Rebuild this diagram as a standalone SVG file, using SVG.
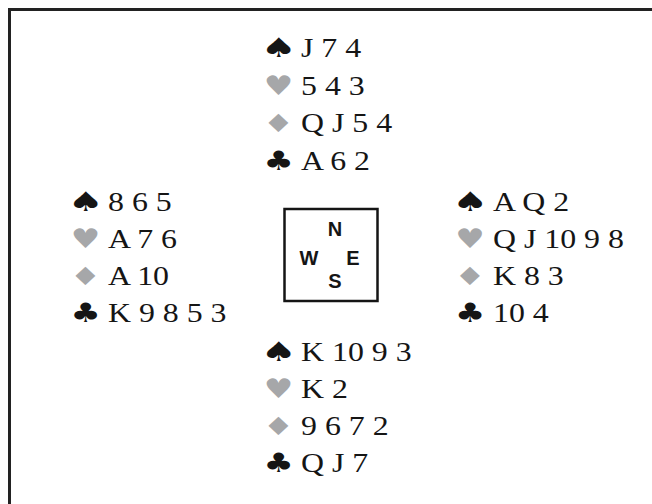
<svg xmlns="http://www.w3.org/2000/svg" width="652" height="504" viewBox="0 0 652 504">
<style>
.c{font-family:"Liberation Serif","Times New Roman",serif;font-size:27px;fill:#151515}
.s{font-family:"DejaVu Sans",sans-serif;font-size:27px;text-anchor:middle}
.b{fill:#151515}
.r{fill:#a6a7a9}
.d{font-size:25px}
.k{font-family:"Liberation Sans",Arial,sans-serif;font-weight:bold;font-size:20px;fill:#151515;text-anchor:middle}
</style>
<rect width="652" height="504" fill="#fff"/>
<path d="M9.5,504 V9.5 H652" fill="none" stroke="#222" stroke-width="3"/>
<g id="north">
<text class="s b" transform="translate(278.5,57) scale(1.5,1)">♠</text><text class="c" transform="translate(301,57) scale(1.18,1)">J 7 4</text>
<text class="s r" transform="translate(278.5,95) scale(1.22,1)">♥</text><text class="c" transform="translate(301,95) scale(1.18,1)">5 4 3</text>
<text class="s r d" transform="translate(278.5,132) scale(1.4,1)">♦</text><text class="c" transform="translate(301,132) scale(1.18,1)">Q J 5 4</text>
<text class="s b" transform="translate(278.5,170) scale(1.25,1)">♣</text><text class="c" transform="translate(301,170) scale(1.18,1)">A 6 2</text>
</g>
<g id="west">
<text class="s b" transform="translate(85.5,211) scale(1.5,1)">♠</text><text class="c" transform="translate(108,211) scale(1.18,1)">8 6 5</text>
<text class="s r" transform="translate(85.5,248) scale(1.22,1)">♥</text><text class="c" transform="translate(108,248) scale(1.18,1)">A 7 6</text>
<text class="s r d" transform="translate(85.5,285) scale(1.4,1)">♦</text><text class="c" transform="translate(108,285) scale(1.18,1)">A 10</text>
<text class="s b" transform="translate(85.5,322) scale(1.25,1)">♣</text><text class="c" transform="translate(108,322) scale(1.18,1)">K 9 8 5 3</text>
</g>
<g id="east">
<text class="s b" transform="translate(470,211) scale(1.5,1)">♠</text><text class="c" transform="translate(493,211) scale(1.18,1)">A Q 2</text>
<text class="s r" transform="translate(470,248) scale(1.22,1)">♥</text><text class="c" transform="translate(493,248) scale(1.18,1)">Q J 10 9 8</text>
<text class="s r d" transform="translate(470,285) scale(1.4,1)">♦</text><text class="c" transform="translate(493,285) scale(1.18,1)">K 8 3</text>
<text class="s b" transform="translate(470,322) scale(1.25,1)">♣</text><text class="c" transform="translate(493,322) scale(1.18,1)">10 4</text>
</g>
<g id="south">
<text class="s b" transform="translate(278.5,361) scale(1.5,1)">♠</text><text class="c" transform="translate(301,361) scale(1.18,1)">K 10 9 3</text>
<text class="s r" transform="translate(278.5,398) scale(1.22,1)">♥</text><text class="c" transform="translate(301,398) scale(1.18,1)">K 2</text>
<text class="s r d" transform="translate(278.5,435) scale(1.4,1)">♦</text><text class="c" transform="translate(301,435) scale(1.18,1)">9 6 7 2</text>
<text class="s b" transform="translate(278.5,472) scale(1.25,1)">♣</text><text class="c" transform="translate(301,472) scale(1.18,1)">Q J 7</text>
</g>
<g id="compass">
<rect x="284.5" y="209" width="93" height="92" fill="none" stroke="#151515" stroke-width="2.5"/>
<text class="k" x="335" y="236">N</text>
<text class="k" x="309" y="265">W</text>
<text class="k" x="353" y="265">E</text>
<text class="k" x="335" y="288">S</text>
</g>
<g id="connectors"/>
</svg>
